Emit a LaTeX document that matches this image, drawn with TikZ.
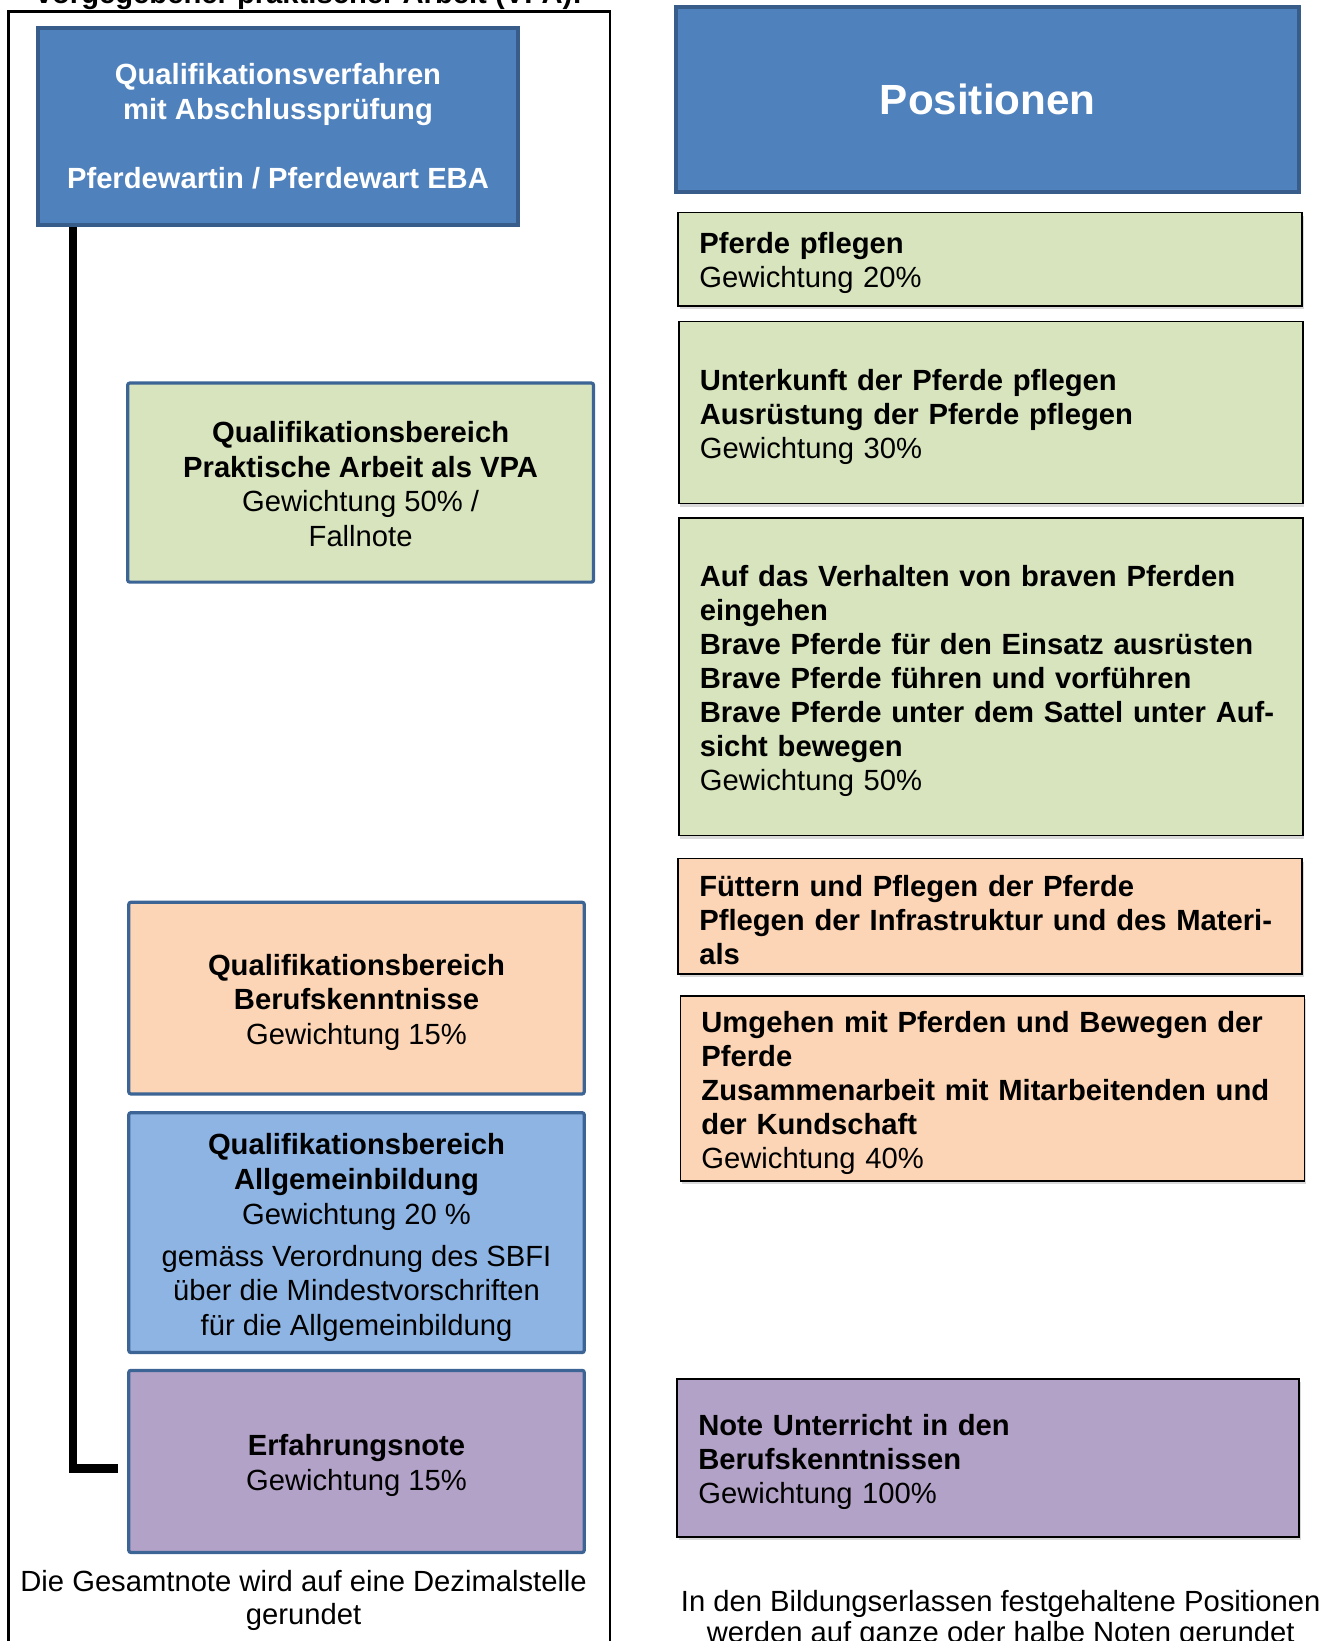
\documentclass[tikz,border=0pt]{standalone}
\usepackage{fontspec}
\setmainfont{Liberation Sans}
\usetikzlibrary{shadows}

\definecolor{headblue}{HTML}{4F81BD}
\definecolor{headline}{HTML}{385D8A}
\definecolor{framblue}{HTML}{3C6494}
\definecolor{vpagreen}{HTML}{D7E4BD}
\definecolor{bkorange}{HTML}{FBD5B5}
\definecolor{abublue}{HTML}{8EB4E3}
\definecolor{ernpurple}{HTML}{B3A2C7}

% erste Zeile etwas tiefer setzen
\newcommand{\hochstrut}{\rule{0pt}{14.9pt}}

\begin{document}
\begin{tikzpicture}[x=0.5pt, y=-0.5pt, font=\fontsize{14.6}{17.3}\selectfont]
        \tikzstyle{head}=[draw=headline, fill=headblue, line width=2pt, text=white, align=center, font=\bfseries\fontsize{14.6}{17.3}\selectfont]
        \tikzstyle{qbox}=[draw=framblue, line width=1.6pt, rounded corners=1pt, align=center, minimum width=227.7pt]
        \tikzstyle{posbox}=[draw=black, line width=0.9pt, align=left, inner xsep=10.5pt, text width=291pt, font=\fontsize{14.6}{17}\selectfont, drop shadow={shadow xshift=0.8pt, shadow yshift=-1.6pt, opacity=0.3}]

        \useasboundingbox (0,0) rectangle (1342,1641);
        \clip (0,0) rectangle (1342,1641);

        % linke Seite
        \node[anchor=base, font=\bfseries\fontsize{14.6}{17.3}\selectfont] (titel) at (309,4) {vorgegebener praktischer Arbeit (VPA):};
        \draw[line width=1.3pt] (8.4,1700) |- (610,11.5) -- (610,1700);

        \node[head, minimum width=240.3pt, minimum height=98.4pt] (verfahren) at (278,126.6) {Qualifikationsverfahren\\mit Abschlussprüfung\\[17.3pt]Pferdewartin / Pferdewart EBA};
        \node[qbox, fill=vpagreen, minimum width=232.9pt, minimum height=99.5pt] (vpa) at (360.6,482.6) {\rule{0pt}{12.2pt}\textbf{Qualifikationsbereich}\\\textbf{Praktische Arbeit als VPA}\\Gewichtung 50\% /\\Fallnote};
        \node[qbox, fill=bkorange, minimum height=95.8pt] (bk) at (356.5,998.1) {\hochstrut\textbf{Qualifikationsbereich}\\\textbf{Berufskenntnisse}\\Gewichtung 15\%};
        \node[qbox, fill=abublue, minimum height=119.9pt] (abu) at (356.5,1232.6) {\rule{0pt}{15.6pt}\textbf{Qualifikationsbereich}\\\textbf{Allgemeinbildung}\\Gewichtung 20 \%\\[3.7pt]gemäss Verordnung des SBFI\\über die Mindestvorschriften\\für die Allgemeinbildung};
        \node[qbox, fill=ernpurple, minimum height=91pt] (ern) at (356.5,1461.4) {\hochstrut\textbf{Erfahrungsnote}\\Gewichtung 15\%};

        \draw[line width=4.2pt] ([xshift=18.6pt]verfahren.south west) |- ([xshift=-4.6pt, yshift=-3.6pt]ern.west);

        \node[align=center, font=\fontsize{14.6}{16.8}\selectfont] (gesamt) at (303.6,1600.6) {Die Gesamtnote wird auf eine Dezimalstelle\\gerundet};

        % rechte Seite
        \node[head, minimum width=311.5pt, minimum height=92.2pt, font=\bfseries\fontsize{21.1}{25}\selectfont] (positionen) at (987.7,99.5) {Positionen};

        \node[posbox, fill=vpagreen, minimum height=46.6pt] (pflegen) at (990.3,259.1) {\hochstrut\textbf{Pferde pflegen}\\Gewichtung 20\%};
        \node[posbox, fill=vpagreen, minimum height=91pt] (unterkunft) at (990.8,412.5) {\hochstrut\textbf{Unterkunft der Pferde pflegen}\\\textbf{Ausrüstung der Pferde pflegen}\\Gewichtung 30\%};
        \node[posbox, fill=vpagreen, minimum height=158.6pt] (verhalten) at (990.8,676.8) {\hochstrut\textbf{Auf das Verhalten von braven Pferden}\\\textbf{eingehen}\\\textbf{Brave Pferde für den Einsatz ausrüsten}\\\textbf{Brave Pferde führen und vorführen}\\\textbf{Brave Pferde unter dem Sattel unter Auf-}\\\textbf{sicht bewegen}\\Gewichtung 50\%};
        \node[posbox, fill=bkorange, minimum height=57.6pt] (fuettern) at (990.3,916) {\hochstrut\textbf{Füttern und Pflegen der Pferde}\\\textbf{Pflegen der Infrastruktur und des Materi-}\\\textbf{als}};
        \node[posbox, fill=bkorange, minimum height=91.6pt] (umgehen) at (992.4,1088.2) {\hochstrut\textbf{Umgehen mit Pferden und Bewegen der}\\\textbf{Pferde}\\\textbf{Zusammenarbeit mit Mitarbeitenden und}\\\textbf{der Kundschaft}\\Gewichtung 40\%};
        \node[posbox, fill=ernpurple, minimum height=79pt, text width=289.9pt] (unterricht) at (988.2,1457.7) {\hochstrut\textbf{Note Unterricht in den}\\\textbf{Berufskenntnissen}\\Gewichtung 100\%};

        \node[align=center, font=\fontsize{14.6}{15.5}\selectfont] (runden) at (1000.7,1619.5) {In den Bildungserlassen festgehaltene Positionen\\werden auf ganze oder halbe Noten gerundet};

        \end{tikzpicture}
\end{document}
